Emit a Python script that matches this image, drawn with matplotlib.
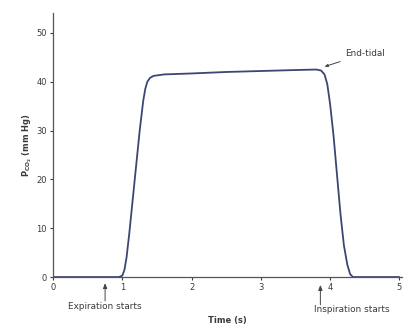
import matplotlib
matplotlib.use("Agg")
import matplotlib.pyplot as plt

# Data
time_s = [0.0, 0.95, 1.0, 1.03, 1.06, 1.1, 1.15, 1.2, 1.25, 1.3, 1.33, 1.36, 1.4,
          1.45, 1.6, 2.0, 2.5, 3.0, 3.5, 3.8, 3.87, 3.92, 3.96, 4.0, 4.05, 4.1,
          4.15, 4.2, 4.25, 4.29, 4.33, 5.0]
pco2 = [0.0, 0.0, 0.3, 1.5, 4.0, 9.0, 16.0, 23.0, 30.0, 36.0, 38.5, 40.0, 40.8,
        41.2, 41.5, 41.7, 42.0, 42.2, 42.4, 42.5, 42.3, 41.5, 39.5, 35.5, 29.0, 21.0,
        13.0, 6.5, 2.5, 0.6, 0.0, 0.0]
x_ticks = [0, 1, 2, 3, 4, 5]
y_ticks = [0, 10, 20, 30, 40, 50]
expiration_t = 0.75
inspiration_t = 3.86
end_tidal_t = 3.88
end_tidal_v = 42.4

text_col = "#3a3a3a"
fig = plt.figure(figsize=(4.09, 3.31), dpi=100)
ax = fig.add_axes([0.130, 0.163, 0.853, 0.798])
ax.plot(time_s, pco2, color="#3d4573", lw=1.3, solid_capstyle="round")
ax.set_xlim(0, 5.04)
ax.set_ylim(0, 54.1)
ax.set_xticks(x_ticks)
ax.set_yticks(y_ticks)
ax.tick_params(axis="both", direction="out", length=2.5, width=0.8,
               labelsize=6, colors=text_col, pad=2)
for s in ["top", "right"]:
    ax.spines[s].set_visible(False)
for s in ["left", "bottom"]:
    ax.spines[s].set_color("#555555")
    ax.spines[s].set_linewidth(0.9)

ax.set_xlabel("Time (s)", fontsize=6, fontweight="bold", color=text_col, labelpad=17)
ax.set_ylabel(r"P$_{\mathbf{CO_2}}$ (mm Hg)", fontsize=6, fontweight="bold",
              color=text_col, labelpad=2)

arrow_kw = dict(arrowstyle="-|>,head_length=0.3,head_width=0.12", color="#444444", lw=0.7,
                shrinkA=0, shrinkB=0)
ax.annotate("", xy=(expiration_t, -0.023), xycoords=("data", "axes fraction"),
            xytext=(expiration_t, -0.09), textcoords=("data", "axes fraction"),
            arrowprops=arrow_kw, annotation_clip=False)
ax.text(expiration_t, -0.095, "Expiration starts", transform=ax.get_xaxis_transform(),
        ha="center", va="top", fontsize=6.4, color=text_col)
ax.annotate("", xy=(inspiration_t, -0.03), xycoords=("data", "axes fraction"),
            xytext=(inspiration_t, -0.105), textcoords=("data", "axes fraction"),
            arrowprops=arrow_kw, annotation_clip=False)
ax.text(inspiration_t - 0.09, -0.105, "Inspiration starts", transform=ax.get_xaxis_transform(),
        ha="left", va="top", fontsize=6.4, color=text_col)
ax.annotate("End-tidal", xy=(end_tidal_t + 0.02, end_tidal_v + 0.6),
            xytext=(4.22, 45.8), fontsize=6.4, color=text_col, ha="left", va="center",
            arrowprops=dict(arrowstyle="-|>,head_length=0.3,head_width=0.12",
                            color="#444444", lw=0.7, shrinkA=2, shrinkB=1))

fig.savefig("out.png", dpi=100, facecolor="white")
